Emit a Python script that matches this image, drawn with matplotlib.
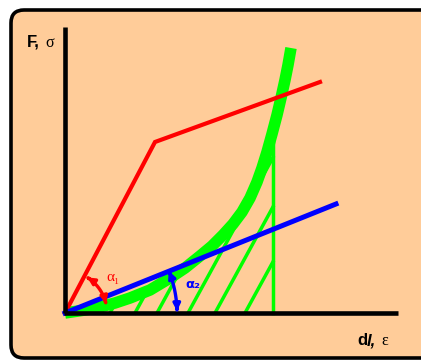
import numpy as np
import matplotlib
matplotlib.use("Agg")
import matplotlib.pyplot as plt
from matplotlib.patches import FancyBboxPatch, FancyArrowPatch
from matplotlib.path import Path

# schematic points, origin of the diagram at (0, 0)
red_u = [0, 90, 255]
red_v = [0, 171, 231]
blue_u = [0, 271]
blue_v = [0, 109]
curve_u = [0, 20, 35, 50, 65, 85, 105, 120, 135, 147, 158, 168, 177, 185,
           192, 197, 202, 207, 212, 216, 220, 223, 226]
curve_v = [0, 3, 6, 10, 15, 23, 35, 45, 57, 67, 78, 89, 101, 115,
           131, 145, 161, 179, 198, 215, 233, 248, 265]
vert_u = 208
hatch_start = [45, 70, 92, 123, 150, 180]
hatch_slope = 1.83

peach = "#FFCC99"

fig = plt.figure(figsize=(4.21, 3.61), dpi=100)
fig.patch.set_facecolor("white")
ax = fig.add_axes([0, 0, 1, 1])
ax.set_xlim(-65, 356)
ax.set_ylim(-48, 313)
ax.axis("off")

# panel
box = FancyBboxPatch((-54, -45), 520, 348, boxstyle="round,pad=0,rounding_size=13",
                     facecolor=peach, edgecolor="black", linewidth=2.6, zorder=0)
ax.add_patch(box)

# axes lines
ax.plot([0, 0], [0, 286], color="black", lw=3.3, solid_capstyle="butt", zorder=5)
ax.plot([-1, 333], [0, 0], color="black", lw=3.3, solid_capstyle="butt", zorder=5)

# hatching
def hatch_end(u0):
    uu = np.linspace(u0, vert_u, 600)
    vv = hatch_slope * (uu - u0)
    cv = np.interp(uu, curve_u, curve_v)
    hit = np.nonzero(vv >= cv)[0]
    i = hit[0] if len(hit) else -1
    return uu[i], vv[i]

for u0 in hatch_start:
    ue, ve = hatch_end(u0)
    ax.plot([u0, ue], [0, ve], color="#00FF00", lw=2.5, zorder=2)
ax.plot([vert_u, vert_u], [0, np.interp(vert_u, curve_u, curve_v)],
        color="#00FF00", lw=2.5, zorder=2)

# green curve
ax.plot(curve_u, curve_v, color="#00FF00", lw=8.3, solid_capstyle="butt",
        solid_joinstyle="round", zorder=3)

# red and blue lines
ax.plot(red_u, red_v, color="#FF0000", lw=3, solid_joinstyle="miter", zorder=4)
ax.plot(blue_u, blue_v, color="#0000FF", lw=3.6, zorder=4)

# angle arcs
def arc(r, a0, a1):
    t = np.radians(np.linspace(a0, a1, 40))
    return Path(np.column_stack([r * np.cos(t), r * np.sin(t)]))

ax.add_patch(FancyArrowPatch(path=arc(42, 58, 13), arrowstyle="<|-|>", mutation_scale=10,
                             color="#FF0000", lw=2.4, zorder=6))
ax.add_patch(FancyArrowPatch(path=arc(112, 22, 1), arrowstyle="<|-|>", mutation_scale=10,
                             color="#0000FF", lw=2.4, zorder=6))

ax.text(41, 36, "α₁", color="#FF0000", fontsize=11,
        family=["Liberation Serif", "DejaVu Serif"], ha="left", va="center", zorder=7)
ax.text(120, 28, "α₂", color="#0000FF", fontsize=9.5, fontweight="bold",
        family=["DejaVu Sans"], ha="left", va="center", zorder=7)

# axis labels
ax.text(-38, 271, "F,", fontsize=12, fontweight="bold", family="Liberation Sans",
        ha="left", va="center")
ax.text(-20, 270, "σ", fontsize=11.5, family="Liberation Serif", ha="left", va="center")
ax.text(292, -32, "d", fontsize=12, fontweight="bold", family="Liberation Sans",
        ha="left", va="baseline")
ax.text(302, -32, "l,", fontsize=12, fontweight="bold", style="italic",
        family="Liberation Sans", ha="left", va="baseline")
ax.text(316, -32, "ε", fontsize=11.5, family="Liberation Serif", ha="left", va="baseline")

fig.savefig("out.png", dpi=100, facecolor=fig.get_facecolor())
